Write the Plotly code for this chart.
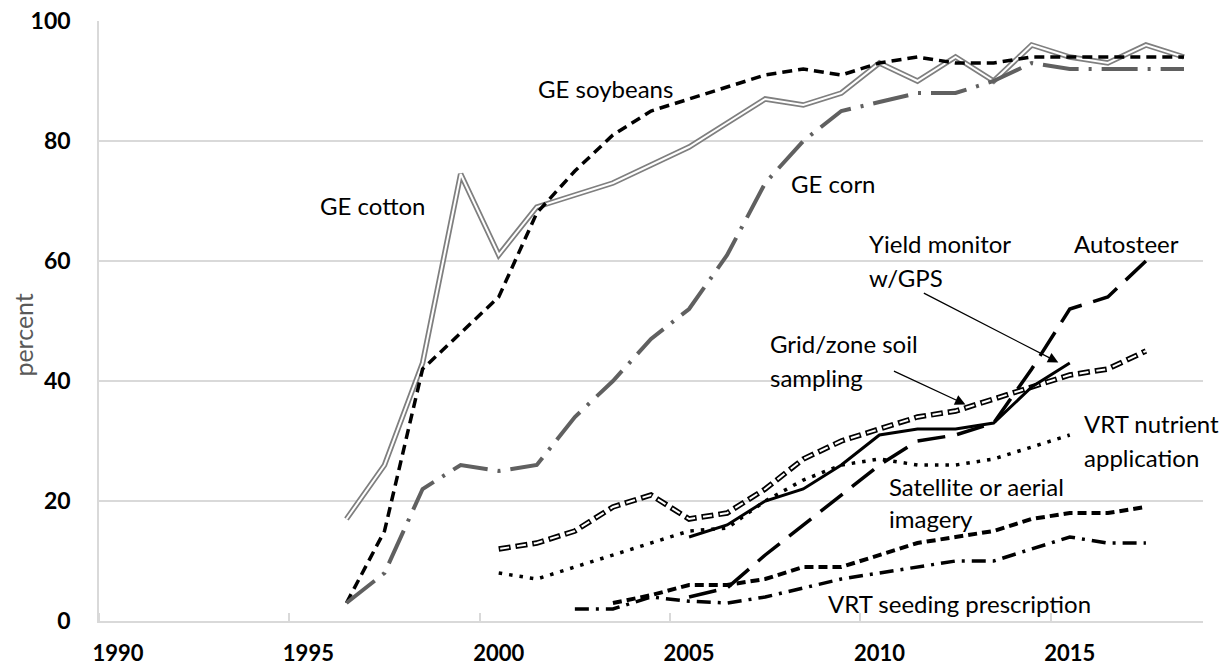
import plotly.graph_objects as go

years = list(range(1990, 2019))

def series(start, vals):
    out = [None] * len(years)
    for i, v in enumerate(vals):
        out[start - 1990 + i] = v
    return out

ge_cotton = series(1996, [17, 26, 43, 74.5, 61, 69, 71, 73, 76, 79, 83, 87, 86, 88, 93, 90, 94, 90, 96, 94, 93, 96, 94])
ge_soybeans = series(1996, [3, 15, 42, 48, 54, 68, 75, 81, 85, 87, 89, 91, 92, 91, 93, 94, 93, 93, 94, 94, 94, 94, 94])
ge_corn = series(1996, [3, 8, 22, 26, 25, 26, 34, 40, 47, 52, 61, 73, 80, 85, 86.5, 88, 88, 90, 93, 92, 92, 92, 92])
autosteer = series(2005, [4, 5.5, 11, 16, 21, 26, 30, 31, 33, 42, 52, 54, 60])
yield_monitor = series(2005, [14, 16, 20, 22, 26, 31, 32, 32, 33, 39, 43])
grid_zone = series(2000, [12, 13, 15, 19, 21, 17, 18, 22, 27, 30, 32, 34, 35, 37, 39, 41, 42, 45])
vrt_nutrient = series(2000, [8, 7, 9, 11, 13, 15, 15.5, 20, 23.5, 26, 27, 26, 26, 27, 29, 31])
satellite = series(2003, [3, 4.3, 6, 6, 7, 9, 9, 11, 13, 14, 15, 17, 18, 18, 19])
vrt_seeding = series(2002, [2, 2, 4, 3.3, 3, 4, 5.5, 7, 8, 9, 10, 10, 12, 14, 13, 13])

x_tickvals = [1990, 1995, 2000, 2005, 2010, 2015]
x_ticktext = ["1990", "1995", "2000", "2005", "2010", "2015"]
y_tickvals = [0, 20, 40, 60, 80, 100]

fig = go.Figure()

def add(y, color, width, dash="solid"):
    fig.add_trace(go.Scatter(x=years, y=y, mode="lines", hoverinfo="skip",
                             line=dict(color=color, width=width, dash=dash)))

# GE cotton: double gray line
add(ge_cotton, "#7f7f7f", 5.5)
add(ge_cotton, "white", 2)
# GE soybeans
add(ge_soybeans, "black", 3.5, "10px,6px")
# GE corn
add(ge_corn, "#606060", 4, "36px,10px,3px,10px")
# Grid/zone soil sampling: outlined dashes
add(grid_zone, "black", 5.5, "12px,5px")
add(grid_zone, "white", 2, "0px,1.5px,9px,6.5px")
# VRT nutrient application: dotted
add(vrt_nutrient, "black", 3.5, "3.5px,7px")
# Satellite or aerial imagery
add(satellite, "black", 4, "9px,5px")
# VRT seeding prescription
add(vrt_seeding, "black", 3.5, "14px,7px,3px,7px")
# Autosteer
add(autosteer, "black", 3.5, "28px,12px")
# Yield monitor
add(yield_monitor, "black", 3)

TF = "Lato"
FS = 24
def label(text, x, y, xanchor="left"):
    fig.add_annotation(x=x, y=y, text=text, showarrow=False, xanchor=xanchor, yanchor="middle",
                       font=dict(family=TF, size=FS, color="black"))

label("GE soybeans", 2002.8, 88.8, "center")
label("GE cotton", 1996.7, 69.3, "center")
label("GE corn", 2008.8, 73.0, "center")
label("Yield monitor", 2009.68, 63.0)
label("w/GPS", 2009.68, 57.3)
label("Autosteer", 2016.5, 63.0, "center")
label("Grid/zone soil", 2007.08, 46.3)
label("sampling", 2007.08, 40.6)
label("VRT nutrient", 2015.31, 33.0)
label("application", 2015.31, 27.3)
label("Satellite or aerial", 2010.21, 22.45)
label("imagery", 2010.21, 17.1)
label("VRT seeding prescription", 2008.6, 2.95)

# arrows
fig.add_annotation(x=2014.7, y=43.1, ax=-136, ay=-70, text="", showarrow=True,
                   arrowhead=2, arrowsize=1.6, arrowwidth=1.3, arrowcolor="black")
fig.add_annotation(x=2012.26, y=36.1, ax=-73, ay=-34, text="", showarrow=True,
                   arrowhead=2, arrowsize=1.6, arrowwidth=1.3, arrowcolor="black")

# y-axis title
fig.add_annotation(xref="paper", yref="paper", x=-0.069, y=0.477, text="percent",
                   showarrow=False, textangle=-90, xanchor="center", yanchor="middle",
                   font=dict(family=TF, size=25, color="#595959"))

fig.update_layout(
    width=1223, height=666,
    margin=dict(l=99, r=20, t=21, b=45, autoexpand=False),
    plot_bgcolor="white", paper_bgcolor="white",
    showlegend=False,
    xaxis=dict(range=[1989.5, 2018.5], tickvals=x_tickvals, ticktext=x_ticktext,
               ticks="", showgrid=False, zeroline=False, automargin=False,
               showline=True, linecolor="#d9d9d9", linewidth=1.5,
               tickfont=dict(family=TF, size=22, color="black", weight="bold"),
               ticklabelstandoff=12,
               minor=dict(ticks="inside", ticklen=8, tickcolor="#d9d9d9", tickwidth=1.5,
                          tick0=1989.5, dtick=5, showgrid=False)),
    yaxis=dict(range=[0, 100], tickvals=y_tickvals, ticks="", automargin=False,
               showgrid=True, gridcolor="#d9d9d9", gridwidth=1.5, zeroline=False,
               showline=True, linecolor="#d9d9d9", linewidth=1.5,
               tickfont=dict(family=TF, size=23, color="black", weight="bold"),
               ticklabelstandoff=22),
)

fig.write_html("out.html", config={"displayModeBar": False},
               post_script="document.body.style.margin='0';document.body.style.overflow='hidden';")
